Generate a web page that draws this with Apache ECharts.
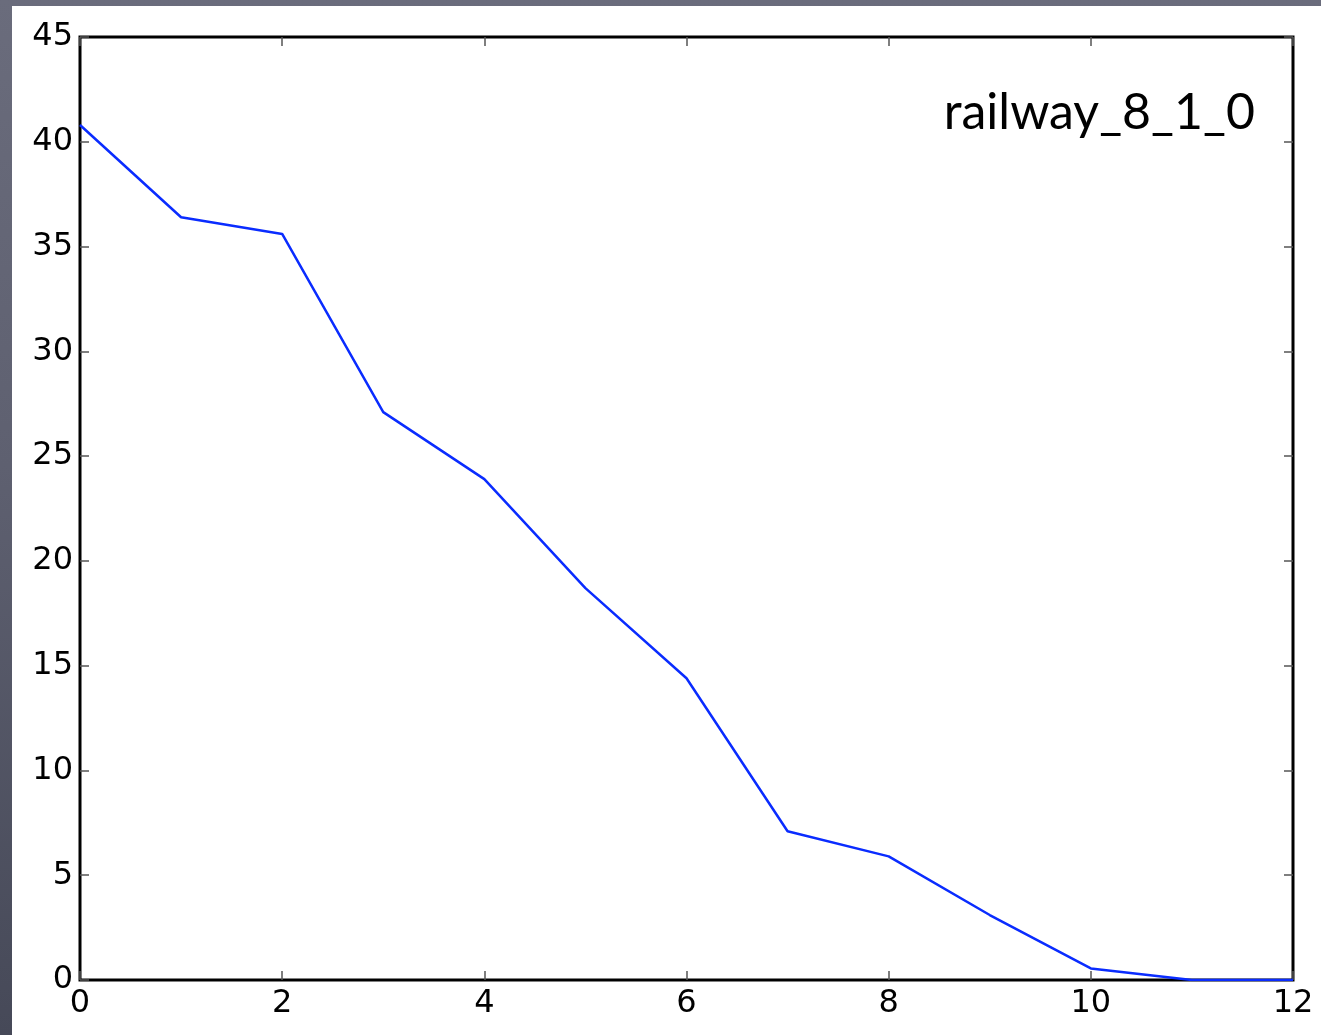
<!DOCTYPE html>
<html>
<head>
<meta charset="utf-8">
<script src="https://cdn.jsdelivr.net/npm/echarts@6/dist/echarts.min.js"></script>
<style>
html,body{margin:0;padding:0;width:1321px;height:1035px;overflow:hidden;}
body{background:linear-gradient(180deg,#6a6c7c 0%,#5e6070 45%,#464958 100%);}
#sheet{position:absolute;left:12px;top:6px;width:1309px;height:1029px;background:#fff;}
#chart{position:absolute;left:0;top:0;width:1321px;height:1035px;}
</style>
</head>
<body>
<div id="sheet"></div>
<div id="chart"></div>
<script>
const xValues = [0,1,2,3,4,5,6,7,8,9,10,11,12];
const yValues = [40.8,36.4,35.6,27.1,23.9,18.7,14.4,7.1,5.9,3.1,0.55,0,0];
const xTicks = [0,2,4,6,8,10,12];
const yTicks = [0,5,10,15,20,25,30,35,40,45];
const titleText = 'railway_8_1_0';

const chart = echarts.init(document.getElementById('chart'), null, {renderer:'canvas'});
function mkTick(){ return {show:true, inside:true, length:9, lineStyle:{color:'#555', width:1.5}}; }
function mkLabel(show, margin){
  return {show:show, margin:margin, color:'#000', fontSize:32, fontFamily:'DejaVu Sans'};
}
function xAx(pos, showLabel){
  return {type:'value', position:pos, min:xTicks[0], max:xTicks[xTicks.length-1], interval:2,
    axisLine:{show:false, onZero:false}, axisTick:mkTick(), splitLine:{show:false},
    axisLabel:mkLabel(showLabel, 8)};
}
function yAx(pos, showLabel){
  return {type:'value', position:pos, min:yTicks[0], max:yTicks[yTicks.length-1], interval:5,
    axisLine:{show:false, onZero:false}, axisTick:mkTick(), splitLine:{show:false},
    axisLabel:mkLabel(showLabel, 7)};
}
chart.setOption({
  backgroundColor:'transparent',
  animation:false,
  grid:{left:80, right:28, top:37, bottom:55, show:true, borderColor:'#000', borderWidth:3, backgroundColor:'transparent'},
  xAxis:[xAx('bottom', true), xAx('top', false)],
  yAxis:[yAx('left', true), yAx('right', false)],
  graphic:[{type:'text', right:66, top:88, z:10,
    style:{text:titleText, fill:'#000', font:'50px "Comic Sans MS", "Lato", sans-serif'}}],
  series:[{type:'line', xAxisIndex:0, yAxisIndex:0, showSymbol:false,
    lineStyle:{color:'#0a2cff', width:2.5},
    data:xValues.map((x,i)=>[x, yValues[i]])}]
});
</script>
</body>
</html>
